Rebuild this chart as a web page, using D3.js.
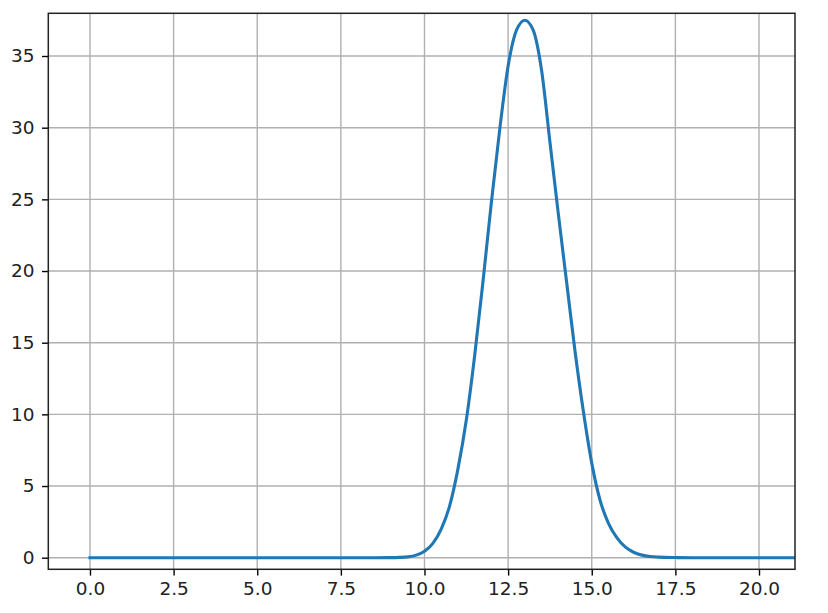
<!DOCTYPE html>
<html>
<head>
<meta charset="utf-8">
<script src="https://cdn.jsdelivr.net/npm/d3@7"></script>
<style>
  html, body { margin: 0; padding: 0; background: #fff; }
  svg { display: block; font-family: "DejaVu Sans", sans-serif; }
</style>
</head>
<body>
<svg id="chart" width="828" height="613"></svg>
<script>
// ---- data ----
const xValues = [0, 1, 2, 3, 4, 5, 6, 7, 8, 8.5, 9, 9.25, 9.5, 9.75, 10, 10.25, 10.5, 10.75,
  11, 11.25, 11.5, 11.75, 12, 12.25, 12.5, 12.75, 13, 13.25, 13.5, 13.75, 14, 14.25, 14.5,
  14.75, 15, 15.25, 15.5, 15.75, 16, 16.25, 16.5, 16.75, 17, 17.5, 18, 19, 20, 21, 22];
const yValues = [0, 0, 0, 0, 0, 0, 0, 0, 0, 0.002, 0.005, 0.02, 0.06, 0.18, 0.45, 1.0, 2.0, 3.6,
  6.2, 9.6, 14.1, 19.3, 24.8, 29.9, 34.3, 36.8, 37.5, 36.8, 34.0, 29.0, 24.0, 19.2, 14.4,
  10.2, 6.6, 4.0, 2.4, 1.4, 0.75, 0.38, 0.18, 0.08, 0.04, 0.01, 0, 0, 0, 0, 0];
const xTicks = [0, 2.5, 5, 7.5, 10, 12.5, 15, 17.5, 20];
const yTicks = [0, 5, 10, 15, 20, 25, 30, 35];
const xDomain = [-1.246, 21.076];
const yDomain = [-0.809, 37.98];

// ---- layout ----
const W = 828, H = 613;
const margin = { left: 48.3, top: 13.3, right: 33, bottom: 43.7 };
const iw = W - margin.left - margin.right;
const ih = H - margin.top - margin.bottom;

const svg = d3.select("#chart");
const g = svg.append("g").attr("transform", `translate(${margin.left},${margin.top})`);

const x = d3.scaleLinear().domain(xDomain).range([0, iw]);
const y = d3.scaleLinear().domain(yDomain).range([ih, 0]);

svg.append("defs").append("clipPath").attr("id", "clip")
  .append("rect").attr("x", 0).attr("y", 0).attr("width", iw).attr("height", ih);

// grid
g.append("g").selectAll("line").data(xTicks).join("line")
  .attr("x1", d => x(d)).attr("x2", d => x(d))
  .attr("y1", 0).attr("y2", ih)
  .attr("stroke", "#b0b0b0").attr("stroke-width", 1.4);
g.append("g").selectAll("line").data(yTicks).join("line")
  .attr("y1", d => y(d)).attr("y2", d => y(d))
  .attr("x1", 0).attr("x2", iw)
  .attr("stroke", "#b0b0b0").attr("stroke-width", 1.4);

// line
const pts = xValues.map((v, i) => [v, yValues[i]]);
const line = d3.line().x(d => x(d[0])).y(d => y(d[1])).curve(d3.curveMonotoneX);
g.append("path").datum(pts)
  .attr("clip-path", "url(#clip)")
  .attr("d", line)
  .attr("fill", "none")
  .attr("stroke", "#1f77b4")
  .attr("stroke-width", 3.1)
  .attr("stroke-linecap", "square")
  .attr("stroke-linejoin", "round");

// axes
const xAxis = d3.axisBottom(x).tickValues(xTicks).tickFormat(d3.format(".1f"))
  .tickSize(6.3).tickPadding(6.5);
const yAxis = d3.axisLeft(y).tickValues(yTicks).tickFormat(d3.format("d"))
  .tickSize(6.3).tickPadding(7.5);

const gx = g.append("g").attr("transform", `translate(0,${ih})`).call(xAxis);
const gy = g.append("g").call(yAxis);
[gx, gy].forEach(a => {
  a.select(".domain").remove();
  a.selectAll(".tick line").attr("stroke", "#000").attr("stroke-width", 1.4);
  a.selectAll(".tick text").attr("fill", "#222").style("font-size", "18.5px")
    .style("font-family", "'DejaVu Sans', sans-serif");
});

// frame
g.append("rect").attr("x", 0).attr("y", 0).attr("width", iw).attr("height", ih)
  .attr("fill", "none").attr("stroke", "#222").attr("stroke-width", 1.5);
</script>
</body>
</html>
